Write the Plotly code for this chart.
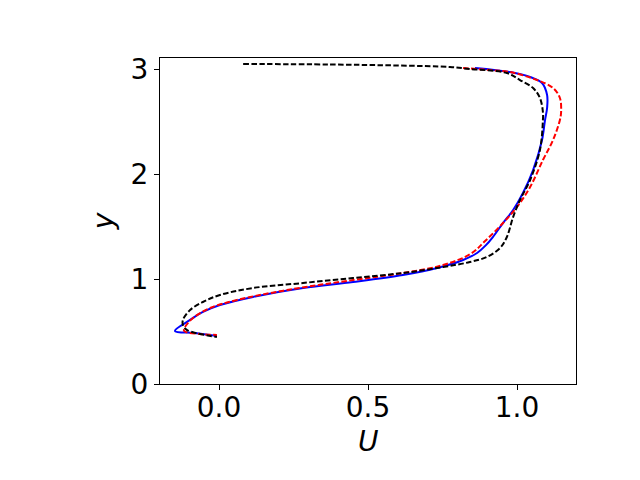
import plotly.graph_objects as go

# velocity profiles U(y)
u_blue = [0.859, 0.977, 1.044, 1.084, 1.101, 1.101, 1.094, 1.084, 1.054, 1.020,
          0.987, 0.953, 0.919, 0.895, 0.866, 0.819, 0.732, 0.617, 0.450, 0.282,
          0.114, 0.003, -0.054, -0.097, -0.148, -0.081, -0.007]
y_blue = [3.010, 2.971, 2.924, 2.867, 2.752, 2.629, 2.514, 2.324, 2.038, 1.819,
          1.657, 1.533, 1.400, 1.320, 1.248, 1.181, 1.105, 1.038, 0.971, 0.914,
          0.829, 0.752, 0.686, 0.610, 0.505, 0.486, 0.457]

u_red = [0.819, 0.909, 0.977, 1.067, 1.121, 1.144, 1.148, 1.144, 1.121, 1.087,
         1.044, 1.000, 0.953, 0.893, 0.845, 0.752, 0.617, 0.450, 0.228, 0.060,
         -0.030, -0.087, -0.114, -0.117, -0.064, -0.007]
y_red = [3.010, 2.990, 2.971, 2.895, 2.819, 2.724, 2.590, 2.514, 2.324, 2.133,
         1.876, 1.686, 1.533, 1.362, 1.240, 1.133, 1.057, 0.990, 0.895, 0.800,
         0.724, 0.629, 0.543, 0.505, 0.476, 0.467]

u_black = [0.081, 0.372, 0.607, 0.775, 0.842, 0.966, 1.010, 1.054, 1.077, 1.087,
           1.087, 1.077, 1.044, 1.010, 0.987, 0.966, 0.943, 0.899, 0.842, 0.752,
           0.617, 0.450, 0.282, 0.114, 0.003, -0.054, -0.097, -0.121, -0.121,
           -0.107, -0.007]
y_black = [3.048, 3.043, 3.033, 3.019, 3.000, 2.962, 2.895, 2.819, 2.724, 2.590,
           2.514, 2.229, 1.943, 1.752, 1.590, 1.400, 1.295, 1.210, 1.162, 1.114,
           1.057, 1.010, 0.962, 0.914, 0.848, 0.781, 0.705, 0.610, 0.562,
           0.514, 0.448]

x_ticks = [0.0, 0.5, 1.0]
x_ticktext = ["0.0", "0.5", "1.0"]
y_ticks = [0, 1, 2, 3]

dash = "5.5px,2.4px"

fig = go.Figure()
fig.add_trace(go.Scatter(x=u_blue, y=y_blue, mode="lines", line_shape="spline",
                         line=dict(color="#0000ff", width=2, smoothing=1.0)))
fig.add_trace(go.Scatter(x=u_red, y=y_red, mode="lines", line_shape="spline",
                         line=dict(color="#ff0000", width=2, dash=dash, smoothing=1.0)))
fig.add_trace(go.Scatter(x=u_black, y=y_black, mode="lines", line_shape="spline",
                         line=dict(color="#000000", width=2, dash=dash, smoothing=1.0)))

axis_common = dict(showline=True, linecolor="black", linewidth=1.2, mirror=True,
                   ticks="outside", ticklen=5, tickwidth=1, tickcolor="black",
                   showgrid=False, zeroline=False,
                   tickfont=dict(family="DejaVu Sans", size=28, color="black"))

label_font = dict(family="DejaVu Sans", size=28, color="black", style="italic")

# page body has an 8px margin, so the margins are shifted to compensate
fig.update_layout(
    width=640, height=480,
    margin=dict(l=152, r=72, t=50, b=104),
    paper_bgcolor="white", plot_bgcolor="white",
    showlegend=False,
    xaxis=dict(range=[-0.198, 1.198], tickvals=x_ticks, ticktext=x_ticktext,
               ticklabelstandoff=-7, **axis_common),
    yaxis=dict(range=[0, 3.105], tickvals=y_ticks,
               title=dict(text="y", standoff=8, font=label_font),
               **axis_common),
    annotations=[dict(text="U", xref="paper", yref="paper", x=0.5, y=0,
                      xanchor="center", yanchor="middle", yshift=-57,
                      showarrow=False, font=label_font)],
)

fig.write_html("out.html")
